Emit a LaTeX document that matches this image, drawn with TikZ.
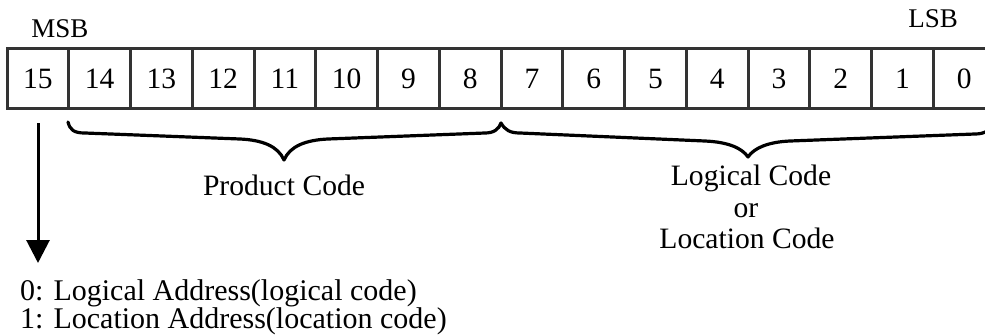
\documentclass[tikz,border=0pt]{standalone}
\usepackage{fontspec}
\setmainfont{Liberation Serif}
\usetikzlibrary{arrows.meta}
\begin{document}
\begin{tikzpicture}[x=1pt,y=-1pt,
  cell/.style={draw=black!80, line width=3pt, minimum width=61.75pt, minimum height=60pt,
               inner sep=0pt, font=\fontsize{29.5}{30}\selectfont},
  hdr/.style={inner sep=0pt, anchor=base, font=\fontsize{27}{30}\selectfont},
  lbl/.style={inner sep=0pt, anchor=base, font=\fontsize{29.6}{32}\selectfont},
  note/.style={inner sep=0pt, anchor=base west, font=\fontsize{30}{32}\selectfont},
  bracestroke/.style={line width=3.2pt, line join=round, line cap=round},
  bitarrow/.style={line width=3pt, -{Triangle[length=23pt,width=23pt]}}]
\useasboundingbox (0,0) rectangle (985,335);

% bit cells
\foreach \i in {0,...,15}{
  \pgfmathtruncatemacro\bit{15-\i}
  \node[cell] (b\bit) at ({7+61.75*\i+30.875},78.5) {\bit};
}

% headers
\node[hdr] (msb) at (60,37) {MSB};
\node[hdr] (lsb) at (933,27) {LSB};

% braces
\coordinate (p1) at (68,122);
\coordinate (p2) at (501,123);
\coordinate (p3) at (995,123);
\draw[bracestroke] (p1) .. controls (70,130) and (74,133) .. (85,133) -- (240,139)
  .. controls (262,140) and (278,146) .. (284,160)
  .. controls (290,146) and (306,140) .. (328,139) -- (485,133)
  .. controls (494,133) and (499,129) .. (p2);
\draw[bracestroke] (p2) .. controls (505,130) and (510,133) .. (520,133) -- (705,141)
  .. controls (728,142) and (742,148) .. (748,157)
  .. controls (754,148) and (768,142) .. (790,141) -- (975,134)
  .. controls (985,134) and (990,130) .. (p3);

% labels
\node[lbl] (pc) at (284,195) {Product Code};
\node[lbl] (lc) at (751,185) {Logical Code};
\node[lbl] (orr) at (746,217) {or};
\node[lbl] (loc) at (747,248) {Location Code};

% MSB arrow
\coordinate (atop) at (38,123);
\coordinate (atip) at (38,263);
\draw[bitarrow] (atop) -- (atip);

% notes
\node[note] (n0) at (20,300) {0: Logical Address(logical code)};
\node[note] (n1) at (20,328) {1: Location Address(location code)};
\end{tikzpicture}
\end{document}
